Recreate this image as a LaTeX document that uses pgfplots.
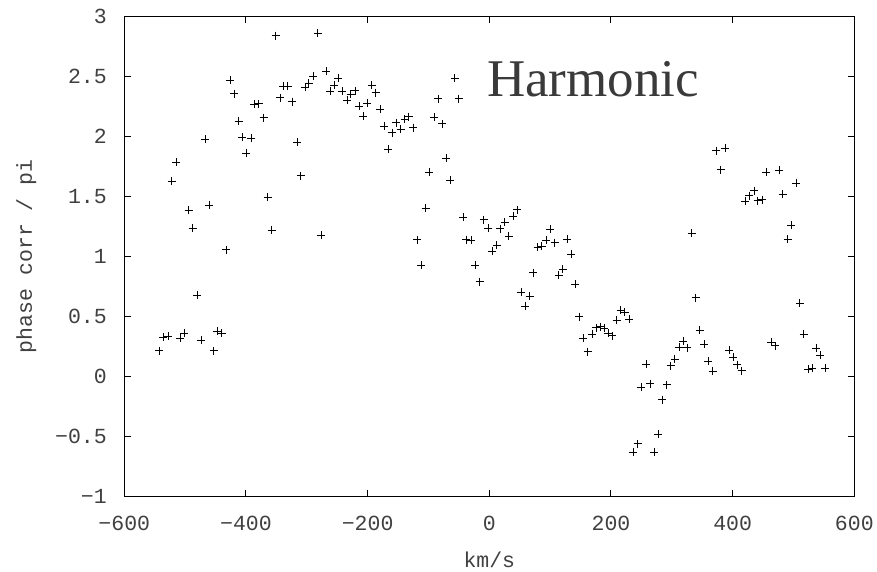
\documentclass[border=0pt]{standalone}
\usepackage{fontspec}
\setmainfont{Liberation Serif}
\setmonofont{Liberation Mono}
\usepackage{pgfplots}
\pgfplotsset{compat=1.18}
\definecolor{lbl}{HTML}{404040}
\definecolor{ttl}{HTML}{3A3A3A}
\begin{document}
\begin{tikzpicture}
\begin{axis}[
  scale only axis, width=730pt, height=480pt,
  xmin=-600, xmax=600, ymin=-1, ymax=3,
  axis line style={line width=1.2pt},
  tick style={line width=1pt, black},
  major tick length=6.7pt, tick align=inside,
  xtick={-600,-400,-200,0,200,400,600},
  xticklabels={−600,−400,−200,0,200,400,600},
  ytick={-1,-0.5,0,0.5,1,1.5,2,2.5,3},
  yticklabels={−1,−0.5,0,0.5,1,1.5,2,2.5,3},
  tick label style={font=\fontsize{21.5}{24}\selectfont\ttfamily, text=lbl},
  xticklabel style={anchor=base, yshift=-34.4pt},
  yticklabel style={anchor=east, inner sep=0pt, xshift=-17.3pt},
  xlabel={km/s}, ylabel={phase corr / pi},
  label style={font=\fontsize{21.5}{24}\selectfont\ttfamily, text=lbl},
  xlabel style={at={([yshift=-70.7pt]axis description cs:0.5,0)}, anchor=base},
  ylabel style={at={([xshift=-98pt]axis description cs:0,0.5)}, anchor=center},
  clip=false,
]
\addplot[only marks, mark=+, mark size=4pt, mark options={line width=0.8pt, black}] table {
x y
-351.2 2.838
-282.1 2.858
-426.3 2.467
-419.2 2.355
-338.6 2.419
-331.4 2.417
-343.6 2.322
-323.9 2.288
-303.0 2.408
-296.9 2.444
-289.3 2.503
-268.5 2.544
-248.2 2.483
-254.8 2.425
-261.9 2.378
-241.7 2.375
-233.9 2.300
-227.9 2.353
-220.8 2.380
-214.2 2.253
-207.1 2.169
-200.6 2.275
-386.3 2.267
-379.1 2.272
-370.9 2.155
-412.0 2.125
-406.0 1.994
-391.2 1.986
-399.5 1.858
-466.9 1.978
-316.1 1.953
-514.5 1.783
-522.1 1.628
-310.1 1.672
-494.2 1.383
-460.3 1.428
-364.3 1.492
-487.6 1.236
-357.7 1.217
-276.2 1.175
-432.8 1.055
-480.5 0.675
-542.5 0.213
-535.9 0.325
-528.2 0.336
-508.5 0.317
-501.4 0.361
-474.0 0.303
-453.1 0.213
-447.1 0.378
-439.9 0.361
-193.3 2.425
-186.8 2.363
-179.7 2.225
-173.1 2.083
-166.0 1.892
-160.0 2.030
-152.9 2.113
-145.7 2.061
-139.1 2.144
-132.5 2.163
-125.4 2.072
-90.9 2.161
-84.3 2.314
-77.3 2.105
-56.9 2.483
-50.3 2.314
-70.7 1.819
-98.6 1.700
-64.1 1.636
-104.6 1.403
-43.2 1.328
-118.4 1.139
-37.8 1.139
-30.1 1.133
-9.2 1.306
-2.1 1.236
4.9 1.042
12.2 1.092
18.1 1.230
25.3 1.283
31.9 1.167
39.0 1.336
45.5 1.389
79.6 1.078
86.1 1.083
100.3 1.225
93.2 1.133
107.5 1.114
127.7 1.142
134.3 1.017
-111.8 0.925
-23.0 0.925
-15.8 0.789
72.3 0.864
52.1 0.700
66.4 0.669
59.2 0.583
114.1 0.842
120.7 0.892
141.4 0.767
148.0 0.497
154.5 0.319
161.8 0.206
168.8 0.353
175.4 0.405
182.0 0.413
188.6 0.402
195.6 0.358
202.2 0.340
209.4 0.469
216.0 0.550
222.6 0.536
230.2 0.478
339.3 0.655
345.9 0.386
353.4 0.269
360.0 0.125
367.3 0.042
394.1 0.217
400.6 0.158
407.7 0.097
414.9 0.047
463.1 0.283
469.7 0.256
510.3 0.611
516.8 0.353
524.4 0.061
531.0 0.067
537.6 0.236
544.1 0.175
551.9 0.069
311.8 0.242
318.9 0.292
325.5 0.238
304.8 0.144
298.2 0.089
257.6 0.100
249.9 -0.089
264.2 -0.061
291.6 -0.070
284.4 -0.195
277.8 -0.483
243.9 -0.562
236.2 -0.633
270.8 -0.631
373.2 1.880
387.5 1.903
380.4 1.722
455.4 1.700
476.3 1.717
504.2 1.611
482.3 1.517
420.9 1.461
427.4 1.505
435.1 1.547
441.2 1.463
448.8 1.472
496.5 1.258
490.5 1.142
332.7 1.194
};
\node[anchor=base west, inner sep=0pt, text=ttl, font=\fontsize{53}{60}\selectfont] at (axis cs:-4,2.3275) {Harmonic};
\end{axis}
\pgfresetboundingbox
\path[use as bounding box] (current axis.south west) ++(-124.3pt,-74.7pt) rectangle ++(877pt,571pt);
\end{tikzpicture}
\end{document}
